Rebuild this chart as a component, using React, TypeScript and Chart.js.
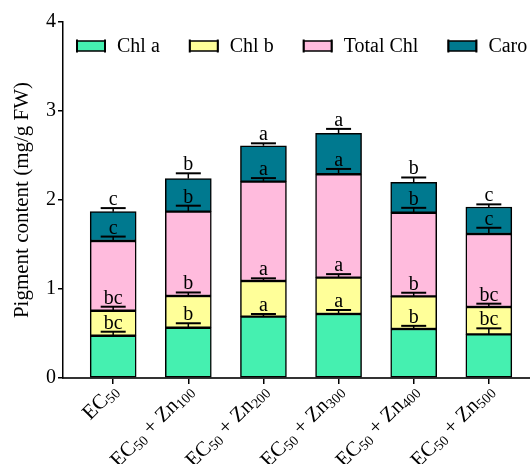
import React, { useEffect, useRef } from "react";
import { Chart, registerables } from "chart.js";

Chart.register(...registerables);

const categories = [
  "EC_{50}",
  "EC_{50} + Zn_{100}",
  "EC_{50} + Zn_{200}",
  "EC_{50} + Zn_{300}",
  "EC_{50} + Zn_{400}",
  "EC_{50} + Zn_{500}",
];

const seriesNames = ["Chl a", "Chl b", "Total Chl", "Caro"];
const seriesColors = ["#45F0B0", "#FFFF99", "#FFBBDD", "#00798F"];

const chlA = [0.475, 0.565, 0.689, 0.719, 0.551, 0.491];
const chlB = [0.281, 0.356, 0.401, 0.408, 0.367, 0.307];
const totalChl = [0.783, 0.948, 1.116, 1.162, 0.939, 0.82];
const caro = [0.33, 0.371, 0.404, 0.46, 0.341, 0.303];

const chlAErr = [0.045, 0.05, 0.03, 0.045, 0.035, 0.067];
const chlBErr = [0.045, 0.04, 0.03, 0.04, 0.04, 0.037];
const totalChlErr = [0.05, 0.067, 0.04, 0.06, 0.055, 0.07];
const caroErr = [0.04, 0.06, 0.027, 0.05, 0.055, 0.03];

const chlALetters = ["bc", "b", "a", "a", "b", "bc"];
const chlBLetters = ["bc", "b", "a", "a", "b", "bc"];
const totalChlLetters = ["c", "b", "a", "a", "b", "c"];
const caroLetters = ["c", "b", "a", "a", "b", "c"];

const yTicks = [0, 1, 2, 3, 4];
const yTitle = "Pigment content (mg/g FW)";

const FONT = "'Liberation Serif', 'Times New Roman', serif";

const seriesValues = [chlA, chlB, totalChl, caro];
const seriesErrors = [chlAErr, chlBErr, totalChlErr, caroErr];
const seriesLetters = [chlALetters, chlBLetters, totalChlLetters, caroLetters];

function parseLabel(s: string) {
  const parts: { text: string; sub: boolean }[] = [];
  const re = /_\{([^}]*)\}/g;
  let last = 0;
  let m: RegExpExecArray | null;
  while ((m = re.exec(s)) !== null) {
    if (m.index > last) parts.push({ text: s.slice(last, m.index), sub: false });
    parts.push({ text: m[1], sub: true });
    last = m.index + m[0].length;
  }
  if (last < s.length) parts.push({ text: s.slice(last), sub: false });
  return parts;
}

const errorPlugin = {
  id: "errorLetters",
  afterDatasetsDraw(chart: any) {
    const ctx = chart.ctx;
    const yScale = chart.scales.y;
    ctx.save();
    chart.data.datasets.forEach((ds: any, d: number) => {
      const meta = chart.getDatasetMeta(d);
      meta.data.forEach((el: any, i: number) => {
        let cum = 0;
        for (let k = 0; k <= d; k++) cum += seriesValues[k][i];
        const capY = yScale.getPixelForValue(cum + seriesErrors[d][i]);
        const x = el.x;
        ctx.strokeStyle = "#000";
        ctx.lineWidth = 1.5;
        ctx.beginPath();
        ctx.moveTo(x, el.y);
        ctx.lineTo(x, capY);
        ctx.stroke();
        ctx.lineWidth = 2;
        ctx.beginPath();
        ctx.moveTo(x - 12.5, capY);
        ctx.lineTo(x + 12.5, capY);
        ctx.stroke();
        ctx.fillStyle = "#000";
        ctx.font = `20px ${FONT}`;
        ctx.textAlign = "center";
        ctx.textBaseline = "alphabetic";
        ctx.fillText(seriesLetters[d][i], x, capY - 3);
      });
    });
    ctx.restore();
  },
};

const labelPlugin = {
  id: "xLabels",
  afterDraw(chart: any) {
    const ctx = chart.ctx;
    const xScale = chart.scales.x;
    ctx.save();
    categories.forEach((cat, i) => {
      const parts = parseLabel(cat);
      const widths = parts.map((p) => {
        ctx.font = p.sub ? `14px ${FONT}` : `21px ${FONT}`;
        return ctx.measureText(p.text).width;
      });
      const total = widths.reduce((a, b) => a + b, 0);
      const x = xScale.getPixelForValue(i);
      ctx.save();
      ctx.translate(x + 1, 387);
      ctx.rotate(-Math.PI / 4);
      let cx = -total;
      ctx.fillStyle = "#000";
      ctx.textAlign = "left";
      ctx.textBaseline = "alphabetic";
      parts.forEach((p, k) => {
        ctx.font = p.sub ? `14px ${FONT}` : `21px ${FONT}`;
        ctx.fillText(p.text, cx, p.sub ? 10 : 7);
        cx += widths[k];
      });
      ctx.restore();
    });
    ctx.restore();
  },
};

const legendPlugin = {
  id: "customLegend",
  afterDraw(chart: any) {
    const ctx = chart.ctx;
    ctx.save();
    let x = 77;
    const yc = 46;
    ctx.font = `20px ${FONT}`;
    seriesNames.forEach((name, i) => {
      ctx.fillStyle = seriesColors[i];
      ctx.fillRect(x, yc - 5, 28, 10);
      ctx.strokeStyle = "#000";
      ctx.lineWidth = 1.5;
      ctx.strokeRect(x, yc - 5, 28, 10);
      ctx.lineWidth = 2;
      ctx.beginPath();
      ctx.moveTo(x, yc - 6.5);
      ctx.lineTo(x, yc + 6.5);
      ctx.moveTo(x + 28, yc - 6.5);
      ctx.lineTo(x + 28, yc + 6.5);
      ctx.stroke();
      ctx.fillStyle = "#000";
      ctx.textAlign = "left";
      ctx.textBaseline = "middle";
      const tx = x + 28 + 12;
      ctx.fillText(name, tx, yc + 1);
      x = tx + ctx.measureText(name).width + 30;
    });
    ctx.restore();
  },
};

export default function App() {
  const ref = useRef<HTMLCanvasElement | null>(null);
  useEffect(() => {
    if (!ref.current) return;
    Chart.defaults.font.family = FONT;
    const chart = new Chart(ref.current, {
      type: "bar",
      data: {
        datasets: seriesNames.map((name, d) => ({
          label: name,
          data: seriesValues[d].map((v, i) => ({ x: i, y: v })),
          backgroundColor: seriesColors[d],
          borderColor: "#000",
          borderWidth: 1.5,
          borderSkipped: false,
          barThickness: 46,
        })),
      },
      options: {
        responsive: false,
        animation: false,
        layout: { padding: { top: 22, left: 0, right: 0, bottom: 0 } },
        plugins: {
          legend: { display: false },
          tooltip: { enabled: false },
        },
        scales: {
          x: {
            type: "linear",
            stacked: true,
            offset: false,
            min: -0.668,
            max: 5.548,
            afterBuildTicks: (scale: any) => {
              scale.ticks = categories.map((_, i) => ({ value: i }));
            },
            afterFit: (scale: any) => {
              scale.height = 86;
            },
            ticks: { display: false },
            grid: {
              offset: false,
              drawOnChartArea: false,
              drawTicks: true,
              tickLength: 6,
              color: "#000",
              lineWidth: 1.5,
            },
            border: { display: true, color: "#333", width: 2 },
          },
          y: {
            stacked: true,
            min: 0,
            max: 4,
            afterBuildTicks: (scale: any) => {
              scale.ticks = yTicks.map((v) => ({ value: v }));
            },
            afterFit: (scale: any) => {
              scale.width = 63;
            },
            ticks: {
              color: "#000",
              font: { size: 20, family: FONT },
              padding: 2,
            },
            grid: {
              drawOnChartArea: false,
              drawTicks: true,
              tickLength: 5,
              color: "#000",
              lineWidth: 1.5,
            },
            border: { display: true, color: "#000", width: 1.5 },
            title: {
              display: true,
              text: yTitle,
              color: "#000",
              font: { size: 21, family: FONT },
              padding: { top: 10, bottom: 0 },
            },
          },
        },
      },
      plugins: [errorPlugin, labelPlugin, legendPlugin],
    } as any);
    return () => chart.destroy();
  }, []);
  return (
    <div style={{ position: "absolute", left: 0, top: 0, width: 530, height: 464 }}>
      <canvas ref={ref} width={530} height={464} />
    </div>
  );
}
